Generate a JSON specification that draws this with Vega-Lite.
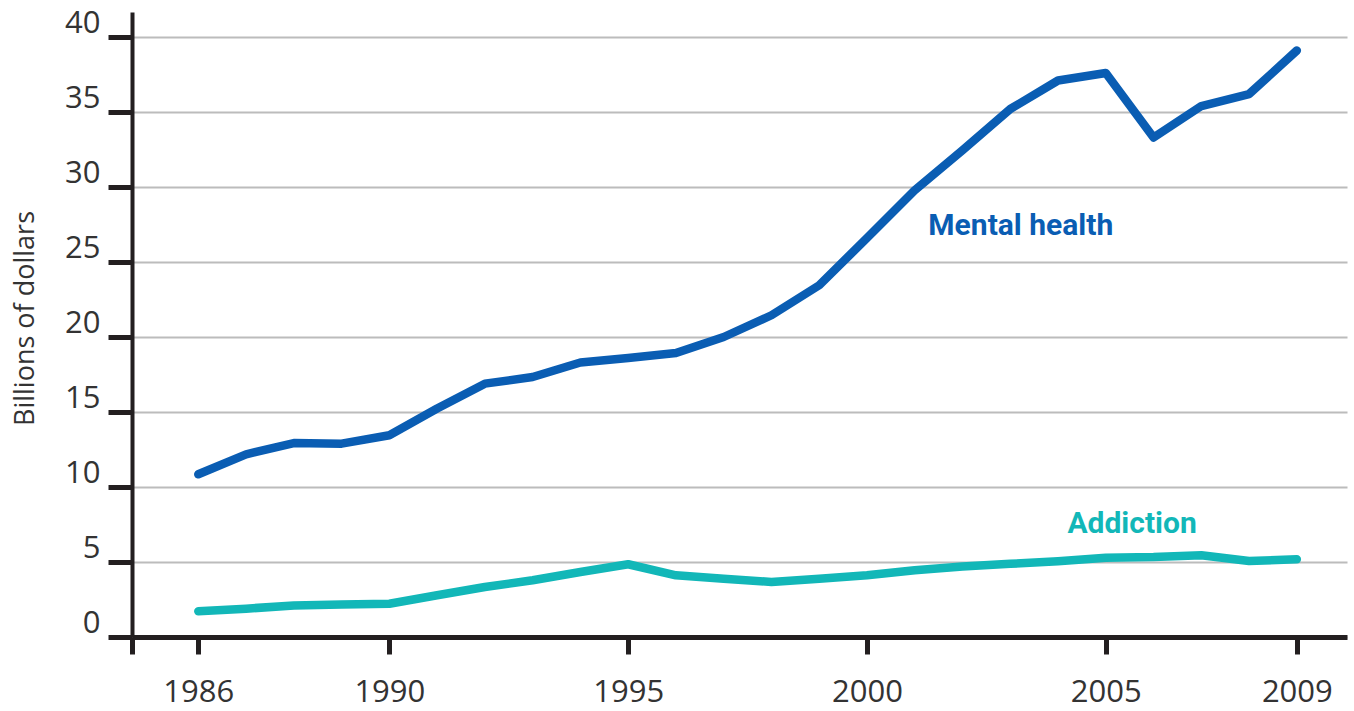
{
  "$schema": "https://vega.github.io/schema/vega-lite/v6.json",
  "autosize": {"type": "none"},
  "width": 1215,
  "height": 625,
  "padding": {"left": 132, "top": 12, "right": 7, "bottom": 74},
  "background": "white",
  "config": {"view": {"stroke": null}},
  "datasets": {
    "series": [
      {"year": 1986, "series": "Mental health", "value": 10.85},
      {"year": 1987, "series": "Mental health", "value": 12.18},
      {"year": 1988, "series": "Mental health", "value": 12.93},
      {"year": 1989, "series": "Mental health", "value": 12.89},
      {"year": 1990, "series": "Mental health", "value": 13.45},
      {"year": 1991, "series": "Mental health", "value": 15.23},
      {"year": 1992, "series": "Mental health", "value": 16.89},
      {"year": 1993, "series": "Mental health", "value": 17.33},
      {"year": 1994, "series": "Mental health", "value": 18.3},
      {"year": 1995, "series": "Mental health", "value": 18.6},
      {"year": 1996, "series": "Mental health", "value": 18.93},
      {"year": 1997, "series": "Mental health", "value": 20.0},
      {"year": 1998, "series": "Mental health", "value": 21.45},
      {"year": 1999, "series": "Mental health", "value": 23.45},
      {"year": 2000, "series": "Mental health", "value": 26.6},
      {"year": 2001, "series": "Mental health", "value": 29.78},
      {"year": 2002, "series": "Mental health", "value": 32.45},
      {"year": 2003, "series": "Mental health", "value": 35.2},
      {"year": 2004, "series": "Mental health", "value": 37.1},
      {"year": 2005, "series": "Mental health", "value": 37.6},
      {"year": 2006, "series": "Mental health", "value": 33.3},
      {"year": 2007, "series": "Mental health", "value": 35.4},
      {"year": 2008, "series": "Mental health", "value": 36.2},
      {"year": 2009, "series": "Mental health", "value": 39.1},
      {"year": 1986, "series": "Addiction", "value": 1.71},
      {"year": 1987, "series": "Addiction", "value": 1.89},
      {"year": 1988, "series": "Addiction", "value": 2.1},
      {"year": 1989, "series": "Addiction", "value": 2.16},
      {"year": 1990, "series": "Addiction", "value": 2.22},
      {"year": 1991, "series": "Addiction", "value": 2.78},
      {"year": 1992, "series": "Addiction", "value": 3.33},
      {"year": 1993, "series": "Addiction", "value": 3.78},
      {"year": 1994, "series": "Addiction", "value": 4.33},
      {"year": 1995, "series": "Addiction", "value": 4.85},
      {"year": 1996, "series": "Addiction", "value": 4.11},
      {"year": 1997, "series": "Addiction", "value": 3.89},
      {"year": 1998, "series": "Addiction", "value": 3.67},
      {"year": 1999, "series": "Addiction", "value": 3.89},
      {"year": 2000, "series": "Addiction", "value": 4.11},
      {"year": 2001, "series": "Addiction", "value": 4.45},
      {"year": 2002, "series": "Addiction", "value": 4.7},
      {"year": 2003, "series": "Addiction", "value": 4.88},
      {"year": 2004, "series": "Addiction", "value": 5.05},
      {"year": 2005, "series": "Addiction", "value": 5.29},
      {"year": 2006, "series": "Addiction", "value": 5.33},
      {"year": 2007, "series": "Addiction", "value": 5.45},
      {"year": 2008, "series": "Addiction", "value": 5.07},
      {"year": 2009, "series": "Addiction", "value": 5.18}
    ],
    "labels": [
      {"year": 2003.22, "value": 26.78, "series": "Mental health", "text": "Mental health"},
      {"year": 2005.55, "value": 6.93, "series": "Addiction", "text": "Addiction"}
    ]
  },
  "layer": [
    {
      "data": {"name": "series"},
      "mark": {"type": "line", "strokeWidth": 8.5, "strokeCap": "round", "strokeJoin": "round"},
      "encoding": {
        "x": {
          "field": "year",
          "type": "quantitative",
          "scale": {"domain": [1984.612, 2010.05], "nice": false, "zero": false},
          "axis": {
            "title": null,
            "values": [1984.612, 1986, 1990, 1995, 2000, 2005, 2009],
            "format": "d",
            "labelExpr": "datum.value < 1985 ? '' : datum.label",
            "grid": false,
            "domainColor": "#231f20",
            "domainWidth": 5,
            "tickColor": "#231f20",
            "tickWidth": 5,
            "tickSize": 17,
            "labelFont": "Open Sans",
            "labelFontSize": 31,
            "labelColor": "#333333",
            "labelPadding": 23,
            "labelFlush": false,
            "labelOverlap": false
          }
        },
        "y": {
          "field": "value",
          "type": "quantitative",
          "scale": {"domain": [0, 41.667], "nice": false},
          "axis": {
            "title": "Billions of dollars",
            "titleFont": "Open Sans",
            "titleFontSize": 27,
            "titleFontWeight": "normal",
            "titleColor": "#333333",
            "titleAngle": -90,
            "titleAlign": "center",
            "titleBaseline": "alphabetic",
            "titleX": -99,
            "titleY": 306,
            "values": [0, 5, 10, 15, 20, 25, 30, 35, 40],
            "grid": true,
            "gridColor": "#bcbcbc",
            "gridWidth": 2,
            "domainColor": "#231f20",
            "domainWidth": 4,
            "tickColor": "#231f20",
            "tickWidth": 5,
            "tickSize": 24,
            "labelFont": "Open Sans",
            "labelFontSize": 31,
            "labelColor": "#333333",
            "labelAlign": "right",
            "labelBaseline": "alphabetic",
            "labelOffset": -5,
            "labelPadding": 8,
            "labelFlush": false,
            "labelOverlap": false
          }
        },
        "color": {
          "field": "series",
          "type": "nominal",
          "scale": {"domain": ["Mental health", "Addiction"], "range": ["#0a5db3", "#12b7b8"]},
          "legend": null
        }
      }
    },
    {
      "data": {"name": "labels"},
      "mark": {"type": "text", "font": "Roboto", "fontWeight": "bold", "fontSize": 30, "align": "center", "baseline": "alphabetic"},
      "encoding": {
        "x": {"field": "year", "type": "quantitative"},
        "y": {"field": "value", "type": "quantitative"},
        "text": {"field": "text"},
        "color": {"field": "series", "type": "nominal", "legend": null}
      }
    }
  ]
}
